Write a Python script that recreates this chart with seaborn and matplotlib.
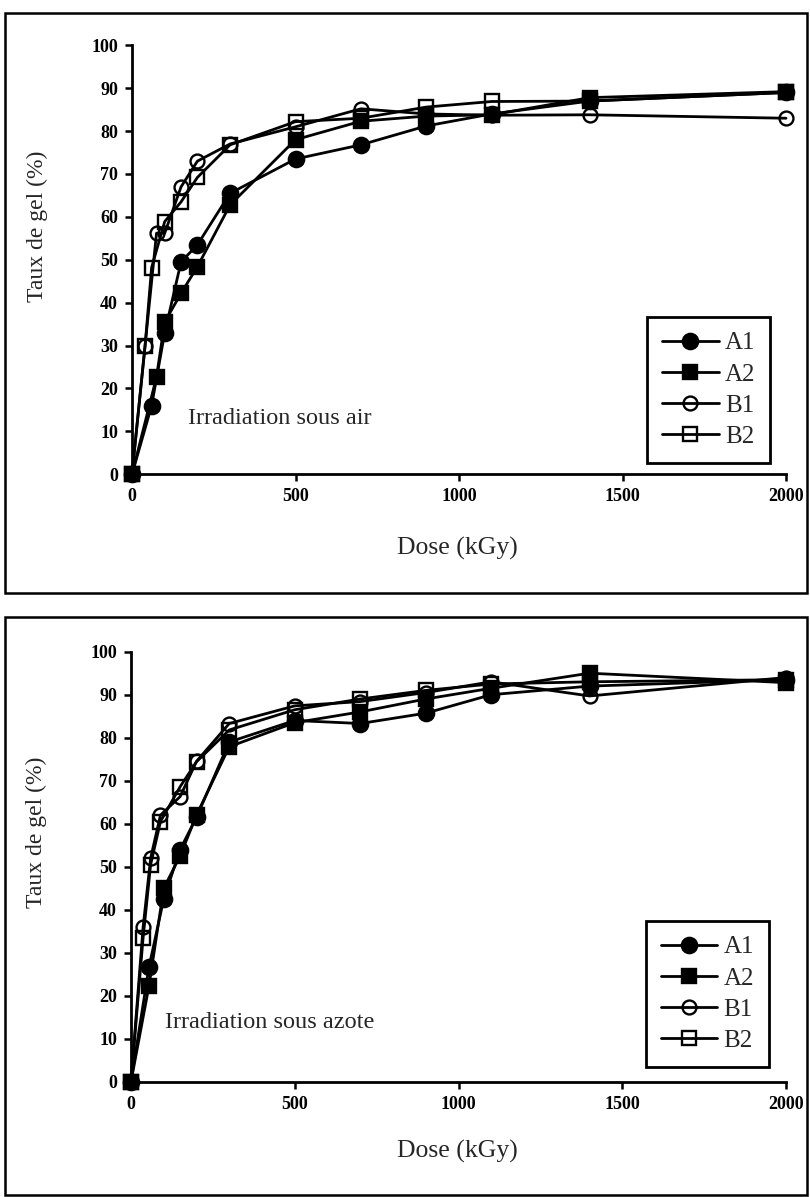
import numpy as np
import pandas as pd
import matplotlib
matplotlib.use("Agg")
import matplotlib.pyplot as plt
from matplotlib.patches import Rectangle
import seaborn as sns

# ---------------- data ----------------
series_names = ["A1", "A2", "B1", "B2"]

# Irradiation sous air
air_A1_x = [0, 60, 100, 150, 200, 300, 500, 700, 900, 1100, 1400, 2000]
air_A1_y = [0, 16, 33, 49.5, 53.5, 65.5, 73.5, 76.8, 81.2, 84, 87, 89]
air_A2_x = [0, 75, 100, 150, 200, 300, 500, 700, 900, 1100, 1400, 2000]
air_A2_y = [0, 22.7, 35.5, 42.2, 48.4, 62.8, 78, 82.3, 83.5, 83.8, 87.8, 89.2]
air_B1_x = [0, 40, 75, 100, 150, 200, 300, 500, 700, 900, 1100, 1400, 2000]
air_B1_y = [0, 30, 56.2, 56.2, 67, 73, 77, 81, 85.2, 84, 83.7, 83.8, 83]
air_B2_x = [0, 40, 60, 100, 150, 200, 300, 500, 700, 900, 1100, 1400, 2000]
air_B2_y = [0, 30, 48.2, 58.9, 63.5, 69.2, 76.8, 82.2, 83, 85.6, 86.9, 87, 89]

# Irradiation sous azote
az_A1_x = [0, 55, 100, 150, 200, 300, 500, 700, 900, 1100, 1400, 2000]
az_A1_y = [0, 26.7, 42.5, 54, 61.5, 79, 84, 83.3, 85.7, 90, 92, 93.5]
az_A2_x = [0, 55, 100, 150, 200, 300, 500, 700, 900, 1100, 1400, 2000]
az_A2_y = [0, 22.3, 45, 52.5, 62, 77.9, 83.5, 86, 89, 91.5, 95, 92.8]
az_B1_x = [0, 37, 60, 90, 150, 200, 300, 500, 700, 900, 1100, 1400, 2000]
az_B1_y = [0, 36, 52, 62, 66.3, 74.5, 83.3, 87.4, 88.4, 90.5, 93, 89.7, 94]
az_B2_x = [0, 37, 60, 90, 150, 200, 300, 500, 700, 900, 1100, 1400, 2000]
az_B2_y = [0, 33.5, 50.5, 60.5, 68.6, 74.4, 81.8, 86.5, 89, 91, 92.5, 93, 93.5]

x_ticks = [0, 500, 1000, 1500, 2000]
y_ticks = [0, 10, 20, 30, 40, 50, 60, 70, 80, 90, 100]
x_label = "Dose (kGy)"
y_label = "Taux de gel (%)"
titles = ["Irradiation sous air", "Irradiation sous azote"]

panels = [
    {"A1": (air_A1_x, air_A1_y), "A2": (air_A2_x, air_A2_y),
     "B1": (air_B1_x, air_B1_y), "B2": (air_B2_x, air_B2_y)},
    {"A1": (az_A1_x, az_A1_y), "A2": (az_A2_x, az_A2_y),
     "B1": (az_B1_x, az_B1_y), "B2": (az_B2_x, az_B2_y)},
]

# ---------------- style ----------------
sns.set_style("ticks")
plt.rcParams["font.family"] = ["Liberation Serif", "DejaVu Serif"]

styles = {
    "A1": dict(marker="o", markerfacecolor="black", markersize=11),
    "A2": dict(marker="s", markerfacecolor="black", markersize=10.5),
    "B1": dict(marker="o", markerfacecolor="none", markersize=10),
    "B2": dict(marker="s", markerfacecolor="none", markersize=10),
}

W, H = 810, 1197
fig = plt.figure(figsize=(W / 100, H / 100), dpi=100)

# panel frames (pixel boxes converted to figure fraction)
for (x0, y0, x1, y1) in [(5, 13, 807, 593), (5, 617, 807, 1195)]:
    fig.patches.append(Rectangle((x0 / W, 1 - y1 / H), (x1 - x0) / W, (y1 - y0) / H,
                                 transform=fig.transFigure, fill=False,
                                 edgecolor="black", linewidth=1.8))

axes_px = [(132, 45.3, 786, 474.3), (131, 651.7, 786, 1081.7)]
text_pos = [(171, 13.1), (104, 13.7)]
ylab_y = [0.579, 0.58]
xlab_y = [-0.147, -0.135]
leg_anchor = [(0.976, 0.026), (0.974, 0.034)]

for i, (l, t, r, b) in enumerate(axes_px):
    ax = fig.add_axes([l / W, 1 - b / H, (r - l) / W, (b - t) / H])
    data = panels[i]
    for name in series_names:
        xs, ys = data[name]
        df = pd.DataFrame({"x": xs, "y": ys})
        sns.lineplot(data=df, x="x", y="y", ax=ax, color="black", linewidth=2.0,
                     markeredgecolor="black", markeredgewidth=1.7,
                     label=name, sort=False, errorbar=None, clip_on=False,
                     zorder=3, **styles[name])
    ax.set_xlim(0, 2000)
    ax.set_ylim(0, 100)
    ax.set_xticks(x_ticks)
    ax.set_yticks(y_ticks)
    ax.tick_params(axis="both", direction="out", length=5, width=1.8,
                   labelsize=13, colors="black", pad=5)
    for lab in ax.get_xticklabels() + ax.get_yticklabels():
        lab.set_fontweight("bold")
    for s in ["left", "bottom"]:
        ax.spines[s].set_linewidth(2.0)
        ax.spines[s].set_color("black")
    for s in ["top", "right"]:
        ax.spines[s].set_visible(False)
    ax.set_xlabel(x_label, fontsize=18.5)
    ax.set_ylabel(y_label, fontsize=17)
    ax.xaxis.set_label_coords(0.498, xlab_y[i])
    ax.yaxis.set_label_coords(-0.128, ylab_y[i])
    ax.text(text_pos[i][0], text_pos[i][1], titles[i], fontsize=17.5,
            ha="left", va="center")
    leg = ax.legend(loc="lower right", bbox_to_anchor=leg_anchor[i],
                    frameon=True, fancybox=False, fontsize=18,
                    handlelength=2.25, handletextpad=0.25, labelspacing=0.35,
                    borderpad=0.6, borderaxespad=0)
    leg.get_frame().set_edgecolor("black")
    leg.get_frame().set_linewidth(2.0)
    leg.get_frame().set_facecolor("white")
    leg.get_frame().set_alpha(1)

fig.savefig("out.png", dpi=100)
